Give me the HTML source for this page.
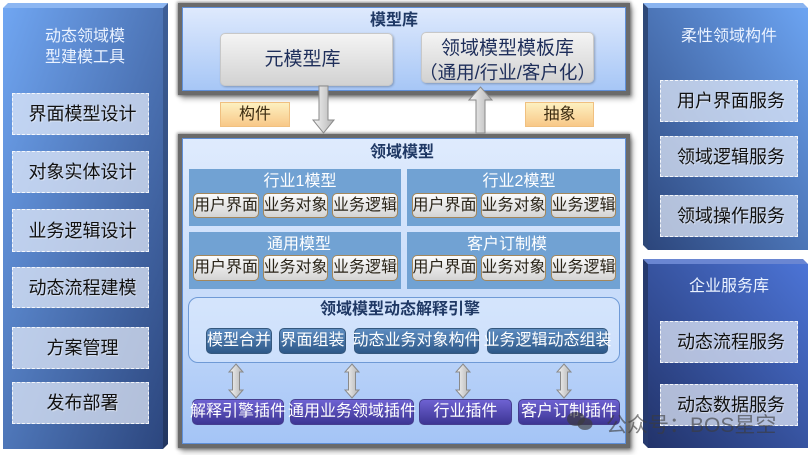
<!DOCTYPE html>
<html><head><meta charset="utf-8"><style>
*{margin:0;padding:0;box-sizing:border-box}
body{width:811px;height:455px;background:#fff;overflow:hidden;font-family:"Liberation Sans","Noto Sans CJK SC",sans-serif}
#root{position:relative;width:811px;height:455px}
.a{position:absolute}
.t{position:absolute;display:flex;align-items:center;justify-content:center;white-space:nowrap;line-height:1}
.lb{border:1px dashed rgba(255,255,255,.85);background:rgba(228,236,250,.72);font-size:18px;color:#111;text-shadow:1px 1px 1px rgba(255,255,255,.5);padding-left:4px}
.gb{border:1px solid #a3875c;border-radius:5px;background:linear-gradient(#fcfcfc,#d4d4d4);font-size:16px;color:#2a2418}
.eb{border:1px solid #35587e;border-radius:5px;background:linear-gradient(#5d8cc0,#2d5888);font-size:16px;color:#fff}
.pb{border:1px solid #463e8e;border-radius:5px;background:linear-gradient(#6e62d2,#3d3594);font-size:16px;color:#fff}
.ind{background:#71a2d3}
.it{color:#fff;font-size:16px}
.or{border:1px solid #f0c080;background:linear-gradient(#fdf0c0,#f8c888);font-size:16px;color:#3a2a10}
.gr{border:1px solid #c8c8c8;border-radius:5px;background:linear-gradient(#f4f4f4,#d2d2d2);box-shadow:1px 1px 2px rgba(0,0,0,.25);color:#1e2e5a;font-size:19px}
</style></head><body><div id="root">
<svg class="a" style="left:0;top:0" width="811" height="455">
<defs>
<linearGradient id="gl" x1="0" y1="0" x2="1" y2="1"><stop offset="0" stop-color="#70a6f2"/><stop offset="1" stop-color="#2c467e"/></linearGradient>
<linearGradient id="gls" x1="0" y1="0" x2="0" y2="1"><stop offset="0" stop-color="#3e5f98"/><stop offset="1" stop-color="#223660"/></linearGradient>
<linearGradient id="gr1" x1="1" y1="0" x2="0" y2="1"><stop offset="0" stop-color="#6ca4f2"/><stop offset="1" stop-color="#2c467c"/></linearGradient>
<linearGradient id="gr2" x1="1" y1="0" x2="0" y2="1"><stop offset="0" stop-color="#4c74d6"/><stop offset="1" stop-color="#22336a"/></linearGradient>
</defs>
<polygon points="3,8 8,3 168,3 163,8" fill="#8cb6f2"/>
<polygon points="163,8 168,3 168,444 163,449" fill="url(#gls)"/>
<rect x="3" y="8" width="160" height="441" fill="url(#gl)"/>
<polygon points="643,3 803,3 808,8 648,8" fill="#8ab4f0"/>
<polygon points="643,3 648,8 648,250 643,245" fill="#2e4878"/>
<rect x="648" y="8" width="160" height="242" fill="url(#gr1)"/>
<polygon points="643,259 803,259 808,264 648,264" fill="#6a86d2"/>
<polygon points="643,259 648,264 648,448 643,443" fill="#263a6e"/>
<rect x="648" y="264" width="160" height="184" fill="url(#gr2)"/>
</svg>

<!-- left panel -->
<div class="t" style="left:20px;top:27px;width:130px;height:20px;font-size:16px;color:#eaf2ff">动态领域模</div>
<div class="t" style="left:20px;top:48px;width:130px;height:20px;font-size:16px;color:#eaf2ff">型建模工具</div>
<div class="t lb" style="left:12px;top:93px;width:137px;height:42px">界面模型设计</div>
<div class="t lb" style="left:12px;top:151px;width:137px;height:42px">对象实体设计</div>
<div class="t lb" style="left:12px;top:209px;width:137px;height:43px">业务逻辑设计</div>
<div class="t lb" style="left:12px;top:267px;width:137px;height:41px">动态流程建模</div>
<div class="t lb" style="left:12px;top:327px;width:137px;height:42px">方案管理</div>
<div class="t lb" style="left:12px;top:382px;width:137px;height:42px">发布部署</div>

<!-- right panels -->
<div class="t" style="left:660px;top:27px;width:138px;height:20px;font-size:16px;color:#eaf2ff">柔性领域构件</div>
<div class="t lb" style="left:660px;top:80px;width:138px;height:42px">用户界面服务</div>
<div class="t lb" style="left:660px;top:136px;width:138px;height:41px">领域逻辑服务</div>
<div class="t lb" style="left:660px;top:195px;width:138px;height:42px">领域操作服务</div>
<div class="t" style="left:660px;top:277px;width:138px;height:20px;font-size:16px;color:#eaf2ff">企业服务库</div>
<div class="t lb" style="left:660px;top:321px;width:138px;height:42px">动态流程服务</div>
<div class="t lb" style="left:660px;top:384px;width:138px;height:42px">动态数据服务</div>

<!-- top panel -->
<div class="a" style="left:178px;top:3px;width:452px;height:92px;border:4px solid #6a6a6a;box-shadow:0 0 3px 1px rgba(0,0,0,.45),3px 4px 5px rgba(0,0,0,.3);background:linear-gradient(#dfeafd,#a6c6f6)"><div style="position:absolute;inset:0;border:1px solid #5f8fd8"></div></div>
<div class="t" style="left:354px;top:12px;width:80px;height:18px;font-size:16px;font-weight:bold;color:#1f3864">模型库</div>
<div class="t gr" style="left:220px;top:33px;width:173px;height:53px;padding-right:8px">元模型库</div>
<div class="a gr" style="left:421px;top:32px;width:173px;height:51px"></div>
<div class="t" style="left:421px;top:38px;width:173px;height:20px;font-size:19px;color:#1e2e5a">领域模型模板库</div>
<div class="t" style="left:419px;top:63px;width:177px;height:20px;font-size:18.5px;color:#1e2e5a">（通用/行业/客户化）</div>

<div class="t or" style="left:220px;top:102px;width:70px;height:25px">构件</div>
<div class="t or" style="left:525px;top:102px;width:69px;height:25px">抽象</div>

<!-- domain model panel -->
<div class="a" style="left:178px;top:134px;width:452px;height:314px;border:4px solid #6a6a6a;box-shadow:0 0 3px 1px rgba(0,0,0,.45),3px 4px 5px rgba(0,0,0,.3);background:linear-gradient(#dfebfd,#c6dbfa 55%,#a4c4f6)"><div style="position:absolute;inset:0;border:1px solid #5f8fd8"></div></div>
<div class="t" style="left:362px;top:144px;width:80px;height:18px;font-size:16px;font-weight:bold;color:#1f3864">领域模型</div>

<div class="a ind" style="left:189px;top:169px;width:212px;height:57px"></div>
<div class="a ind" style="left:407px;top:169px;width:213px;height:57px"></div>
<div class="a ind" style="left:189px;top:232px;width:212px;height:57px"></div>
<div class="a ind" style="left:407px;top:232px;width:213px;height:57px"></div>
<div class="t it" style="left:250px;top:173px;width:100px;height:18px">行业1模型</div>
<div class="t it" style="left:469px;top:173px;width:100px;height:18px">行业2模型</div>
<div class="t it" style="left:249px;top:236px;width:100px;height:18px">通用模型</div>
<div class="t it" style="left:457px;top:236px;width:100px;height:18px">客户订制模</div>

<div class="t gb" style="left:193px;top:193px;width:66px;height:25px">用户界面</div>
<div class="t gb" style="left:263px;top:193px;width:65px;height:25px">业务对象</div>
<div class="t gb" style="left:332px;top:193px;width:66px;height:25px">业务逻辑</div>
<div class="t gb" style="left:412px;top:193px;width:65px;height:25px">用户界面</div>
<div class="t gb" style="left:481px;top:193px;width:65px;height:25px">业务对象</div>
<div class="t gb" style="left:551px;top:193px;width:65px;height:25px">业务逻辑</div>
<div class="t gb" style="left:193px;top:255px;width:66px;height:26px">用户界面</div>
<div class="t gb" style="left:263px;top:255px;width:65px;height:26px">业务对象</div>
<div class="t gb" style="left:332px;top:255px;width:66px;height:26px">业务逻辑</div>
<div class="t gb" style="left:412px;top:255px;width:65px;height:26px">用户界面</div>
<div class="t gb" style="left:481px;top:255px;width:65px;height:26px">业务对象</div>
<div class="t gb" style="left:551px;top:255px;width:65px;height:26px">业务逻辑</div>

<!-- engine -->
<div class="a" style="left:188px;top:297px;width:432px;height:66px;border:1px solid #6f9ad6;border-radius:10px;background:rgba(228,240,255,.45)"></div>
<div class="t" style="left:300px;top:301px;width:200px;height:18px;font-size:16px;font-weight:bold;color:#1f3864">领域模型动态解释引擎</div>
<div class="t eb" style="left:206px;top:328px;width:66px;height:26px">模型合并</div>
<div class="t eb" style="left:279px;top:328px;width:67px;height:26px">界面组装</div>
<div class="t eb" style="left:354px;top:328px;width:125px;height:26px">动态业务对象构件</div>
<div class="t eb" style="left:487px;top:328px;width:121px;height:26px">业务逻辑动态组装</div>

<div class="t pb" style="left:192px;top:399px;width:92px;height:26px">解释引擎插件</div>
<div class="t pb" style="left:290px;top:399px;width:124px;height:26px">通用业务领域插件</div>
<div class="t pb" style="left:419px;top:399px;width:93px;height:26px">行业插件</div>
<div class="t pb" style="left:518px;top:399px;width:102px;height:26px">客户订制插件</div>

<svg class="a" style="left:0;top:0" width="811" height="455">
<defs>
<linearGradient id="ag" x1="0" y1="0" x2="1" y2="0"><stop offset="0" stop-color="#f6f6f6"/><stop offset="1" stop-color="#b4b4b4"/></linearGradient>
</defs>
<polygon points="319,86 328,86 328,120 334,120 323.5,133 313,120 319,120" fill="url(#ag)" stroke="#8a8a8a" stroke-width="1"/>
<polygon points="480.5,87 492,100 485,100 485,133 476,133 476,100 469,100" fill="url(#ag)" stroke="#8a8a8a" stroke-width="1"/>
<g fill="url(#ag)" stroke="#8a8a8a" stroke-width="1">
<polygon points="236,364 243,372 239.5,372 239.5,390 243,390 236,398 229,390 232.5,390 232.5,372 229,372"/>
<polygon points="352,364 359,372 355.5,372 355.5,390 359,390 352,398 345,390 348.5,390 348.5,372 345,372"/>
<polygon points="463,364 470,372 466.5,372 466.5,390 470,390 463,398 456,390 459.5,390 459.5,372 456,372"/>
<polygon points="564,364 571,372 567.5,372 567.5,390 571,390 564,398 557,390 560.5,390 560.5,372 557,372"/>
</g>
<g fill="rgba(60,60,60,.65)">
<ellipse cx="576" cy="419" rx="9" ry="7"/>
<ellipse cx="585" cy="424" rx="7.5" ry="6"/>
</g>
<text x="606" y="432" font-family="Liberation Sans, Noto Sans CJK SC, sans-serif" font-size="21" fill="rgba(60,60,60,.62)">公众号：BOS星空</text>
</svg>
</div></body></html>
